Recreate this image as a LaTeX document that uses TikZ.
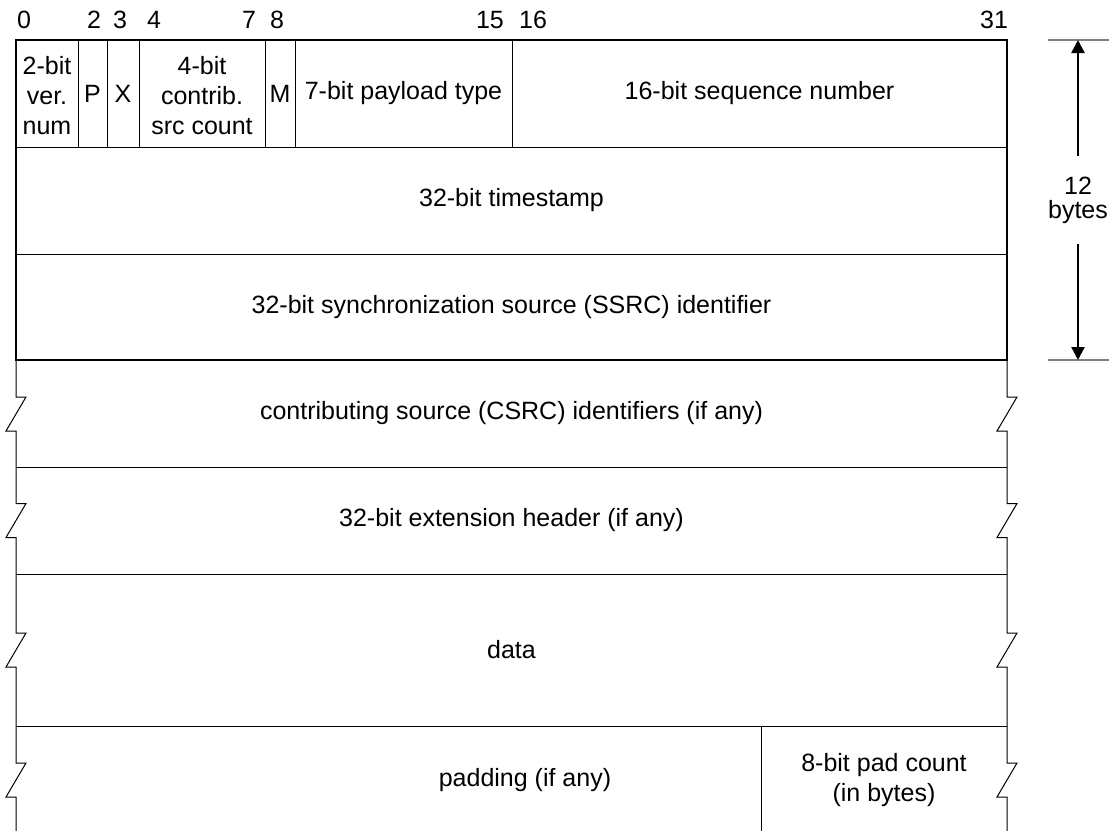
\documentclass[tikz,border=0pt]{standalone}
\usepackage{fontspec}
\setmainfont{Liberation Sans}
\usetikzlibrary{arrows.meta}

\begin{document}
\begin{tikzpicture}[
    x=0.5pt, y=-0.5pt,
    field/.style={font=\fontsize{12.5}{14.8}\selectfont, align=center, inner sep=0pt},
    bitnum/.style={font=\fontsize{12.5}{14.5}\selectfont, inner sep=0pt, anchor=base},
    sizelbl/.style={font=\fontsize{12.5}{12}\selectfont, align=center, inner xsep=0pt, inner ysep=10pt},
    frame/.style={line width=1pt},
    rule/.style={line width=0.5pt},
    tick/.style={line width=0.6pt, gray},
    arrow/.style={-{Triangle[length=6.5pt,width=6.5pt]}, line width=1.2pt}
]
\useasboundingbox (0,0) rectangle (1110,831);

% bit positions
\foreach \b/\x in {0/24, 2/94, 3/120, 4/154, 7/249, 8/277, 15/490, 16/533, 31/994}
    \node[bitnum] (bit\b) at (\x,28) {\b};

% fixed 12-byte header
\draw[frame] (16,40) rectangle (1007,360);
\draw[rule] (16,147) -- (1007,147);
\draw[rule] (16,254) -- (1007,254);
\foreach \x in {78,107,139,265,295,512}
    \draw[rule] (\x,40) -- (\x,147);

% optional part, with break marks on both sides
\foreach \y in {467,574,726}
    \draw[rule] (16,\y) -- (1007,\y);
\foreach \s in {16,1007}
    \draw[rule] (\s,360) foreach \y in {414,520.5,650,780} {
        -- (\s,\y-17) -- ++(10,0) -- ++(-20,34) -- ++(10,0) } -- (\s,831);
\draw[rule] (761,726) -- (761,831);

% field labels
\node[field] (ver)    at (47,95.5)    {2-bit\\ver.\\num};
\node[field] (pbit)   at (92.5,93.5)  {P};
\node[field] (xbit)   at (123,93.5)   {X};
\node[field] (cc)     at (202,95.5)   {4-bit\\contrib.\\src count};
\node[field] (mbit)   at (280,93.5)   {M};
\node[field] (ptype)  at (403.5,93.5) {7-bit payload type};
\node[field] (seq)    at (759.5,93.5) {16-bit sequence number};
\node[field] (ts)     at (511.5,200.5) {32-bit timestamp};
\node[field] (ssrc)   at (511.5,307)  {32-bit synchronization source (SSRC) identifier};
\node[field] (csrc)   at (511.5,413.5) {contributing source (CSRC) identifiers (if any)};
\node[field] (ext)    at (511.5,520.5) {32-bit extension header (if any)};
\node[field] (data)   at (511.5,650)  {data};
\node[field] (pad)    at (525,780)    {padding (if any)};
\node[field] (padcnt) at (884,780)    {8-bit pad count\\(in bytes)};

% header size
\coordinate (top) at (1078,40);
\coordinate (bot) at (1078,360);
\draw[tick] ([xshift=-15pt]top) -- ([xshift=15.5pt]top);
\draw[tick] ([xshift=-15pt]bot) -- ([xshift=15.5pt]bot);
\node[sizelbl] (size) at (1078,200) {12\\bytes};
\draw[arrow] (size) -- (top);
\draw[arrow] (size) -- (bot);
\end{tikzpicture}
\end{document}
